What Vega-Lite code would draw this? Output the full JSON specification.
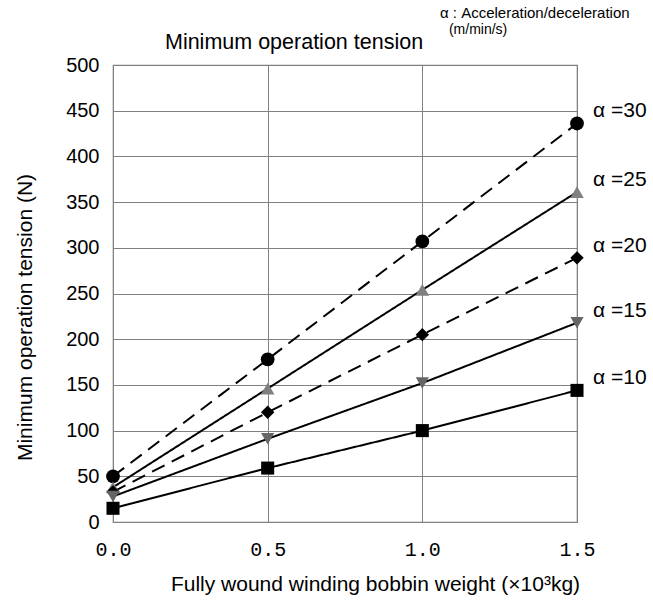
{
  "$schema": "https://vega.github.io/schema/vega-lite/v6.json",
  "autosize": "none",
  "width": 464,
  "height": 457,
  "padding": {"left": 113, "top": 65, "right": 76, "bottom": 80},
  "background": "white",
  "config": {
    "font": "Liberation Sans",
    "view": {"stroke": "#808080", "strokeWidth": 1.2},
    "axis": {"gridColor": "#808080", "gridWidth": 1, "gridOpacity": 1, "domainColor": "#808080", "ticks": false, "labelColor": "black", "titleColor": "black", "titleFontWeight": "normal"}
  },
  "datasets": {
    "tension": [
      {"alpha": 30, "w": 0.0, "t": 50}, {"alpha": 30, "w": 0.5, "t": 178}, {"alpha": 30, "w": 1.0, "t": 307}, {"alpha": 30, "w": 1.5, "t": 436},
      {"alpha": 25, "w": 0.0, "t": 38}, {"alpha": 25, "w": 0.5, "t": 146}, {"alpha": 25, "w": 1.0, "t": 254}, {"alpha": 25, "w": 1.5, "t": 361},
      {"alpha": 20, "w": 0.0, "t": 33}, {"alpha": 20, "w": 0.5, "t": 120}, {"alpha": 20, "w": 1.0, "t": 205}, {"alpha": 20, "w": 1.5, "t": 289},
      {"alpha": 15, "w": 0.0, "t": 28}, {"alpha": 15, "w": 0.5, "t": 91}, {"alpha": 15, "w": 1.0, "t": 152}, {"alpha": 15, "w": 1.5, "t": 218},
      {"alpha": 10, "w": 0.0, "t": 15}, {"alpha": 10, "w": 0.5, "t": 59}, {"alpha": 10, "w": 1.0, "t": 100}, {"alpha": 10, "w": 1.5, "t": 144}
    ],
    "labels": [
      {"alpha": 30, "w": 1.5, "t": 436, "label": "α =30"},
      {"alpha": 25, "w": 1.5, "t": 361, "label": "α =25"},
      {"alpha": 20, "w": 1.5, "t": 289, "label": "α =20"},
      {"alpha": 15, "w": 1.5, "t": 218, "label": "α =15"},
      {"alpha": 10, "w": 1.5, "t": 144, "label": "α =10"}
    ],
    "note": [
      {"line": 0, "text": "Minimum operation tension"},
      {"line": 1, "text": "α : Acceleration/deceleration"},
      {"line": 2, "text": "(m/min/s)"}
    ]
  },
  "layer": [
    {
      "data": {"name": "tension"},
      "mark": {"type": "line", "color": "black", "strokeWidth": 2, "clip": false},
      "encoding": {
        "x": {"field": "w", "type": "quantitative", "scale": {"domain": [0, 1.5], "nice": false},
          "axis": {"values": [0, 0.5, 1.0, 1.5], "format": ".1f", "labelFont": "Liberation Mono", "labelFontSize": 20, "labelPadding": 17, "labelFlush": false,
            "title": "Fully wound winding bobbin weight (×10³kg)", "titleFontSize": 21, "titleX": 262, "titleY": 62, "titleBaseline": "middle", "titleAlign": "center"}},
        "y": {"field": "t", "type": "quantitative", "scale": {"domain": [0, 500], "nice": false},
          "axis": {"values": [0, 50, 100, 150, 200, 250, 300, 350, 400, 450, 500], "labelFontSize": 20, "labelPadding": 14,
            "title": "Minimum operation tension (N)", "titleFontSize": 21, "titleAngle": -90, "titleX": -88, "titleY": 252, "titleAlign": "center", "titleBaseline": "middle"}},
        "detail": {"field": "alpha"},
        "strokeDash": {"field": "alpha", "type": "nominal", "scale": {"domain": [30, 25, 20, 15, 10], "range": [[14, 8], [1, 0], [14, 8], [1, 0], [1, 0]]}, "legend": null}
      }
    },
    {
      "data": {"name": "tension"},
      "mark": {"type": "point", "filled": true, "opacity": 1, "clip": false},
      "encoding": {
        "x": {"field": "w", "type": "quantitative"},
        "y": {"field": "t", "type": "quantitative"},
        "shape": {"field": "alpha", "type": "nominal", "scale": {"domain": [30, 25, 20, 15, 10], "range": ["circle", "triangle-up", "diamond", "triangle-down", "square"]}, "legend": null},
        "color": {"field": "alpha", "type": "nominal", "scale": {"domain": [30, 25, 20, 15, 10], "range": ["#000000", "#808080", "#000000", "#666666", "#000000"]}, "legend": null},
        "size": {"field": "alpha", "type": "nominal", "scale": {"domain": [30, 25, 20, 15, 10], "range": [190, 170, 150, 170, 220]}, "legend": null}
      }
    },
    {
      "data": {"name": "labels"},
      "mark": {"type": "text", "align": "left", "baseline": "middle", "dx": 16, "dy": -12, "fontSize": 21, "color": "black", "clip": false},
      "encoding": {
        "x": {"field": "w", "type": "quantitative"},
        "y": {"field": "t", "type": "quantitative"},
        "text": {"field": "label"}
      }
    },
    {
      "data": {"name": "note"},
      "transform": [{"filter": "datum.line == 0"}],
      "mark": {"type": "text", "align": "left", "baseline": "middle", "fontSize": 21.5, "color": "black", "clip": false},
      "encoding": {
        "x": {"datum": 0.168, "type": "quantitative"},
        "y": {"datum": 524, "type": "quantitative"},
        "text": {"field": "text"}
      }
    },
    {
      "data": {"name": "note"},
      "transform": [{"filter": "datum.line == 1"}],
      "mark": {"type": "text", "align": "left", "baseline": "middle", "fontSize": 15, "color": "black", "clip": false},
      "encoding": {
        "x": {"datum": 1.057, "type": "quantitative"},
        "y": {"datum": 557, "type": "quantitative"},
        "text": {"field": "text"}
      }
    },
    {
      "data": {"name": "note"},
      "transform": [{"filter": "datum.line == 2"}],
      "mark": {"type": "text", "align": "left", "baseline": "middle", "fontSize": 14, "color": "black", "clip": false},
      "encoding": {
        "x": {"datum": 1.086, "type": "quantitative"},
        "y": {"datum": 538, "type": "quantitative"},
        "text": {"field": "text"}
      }
    }
  ]
}
